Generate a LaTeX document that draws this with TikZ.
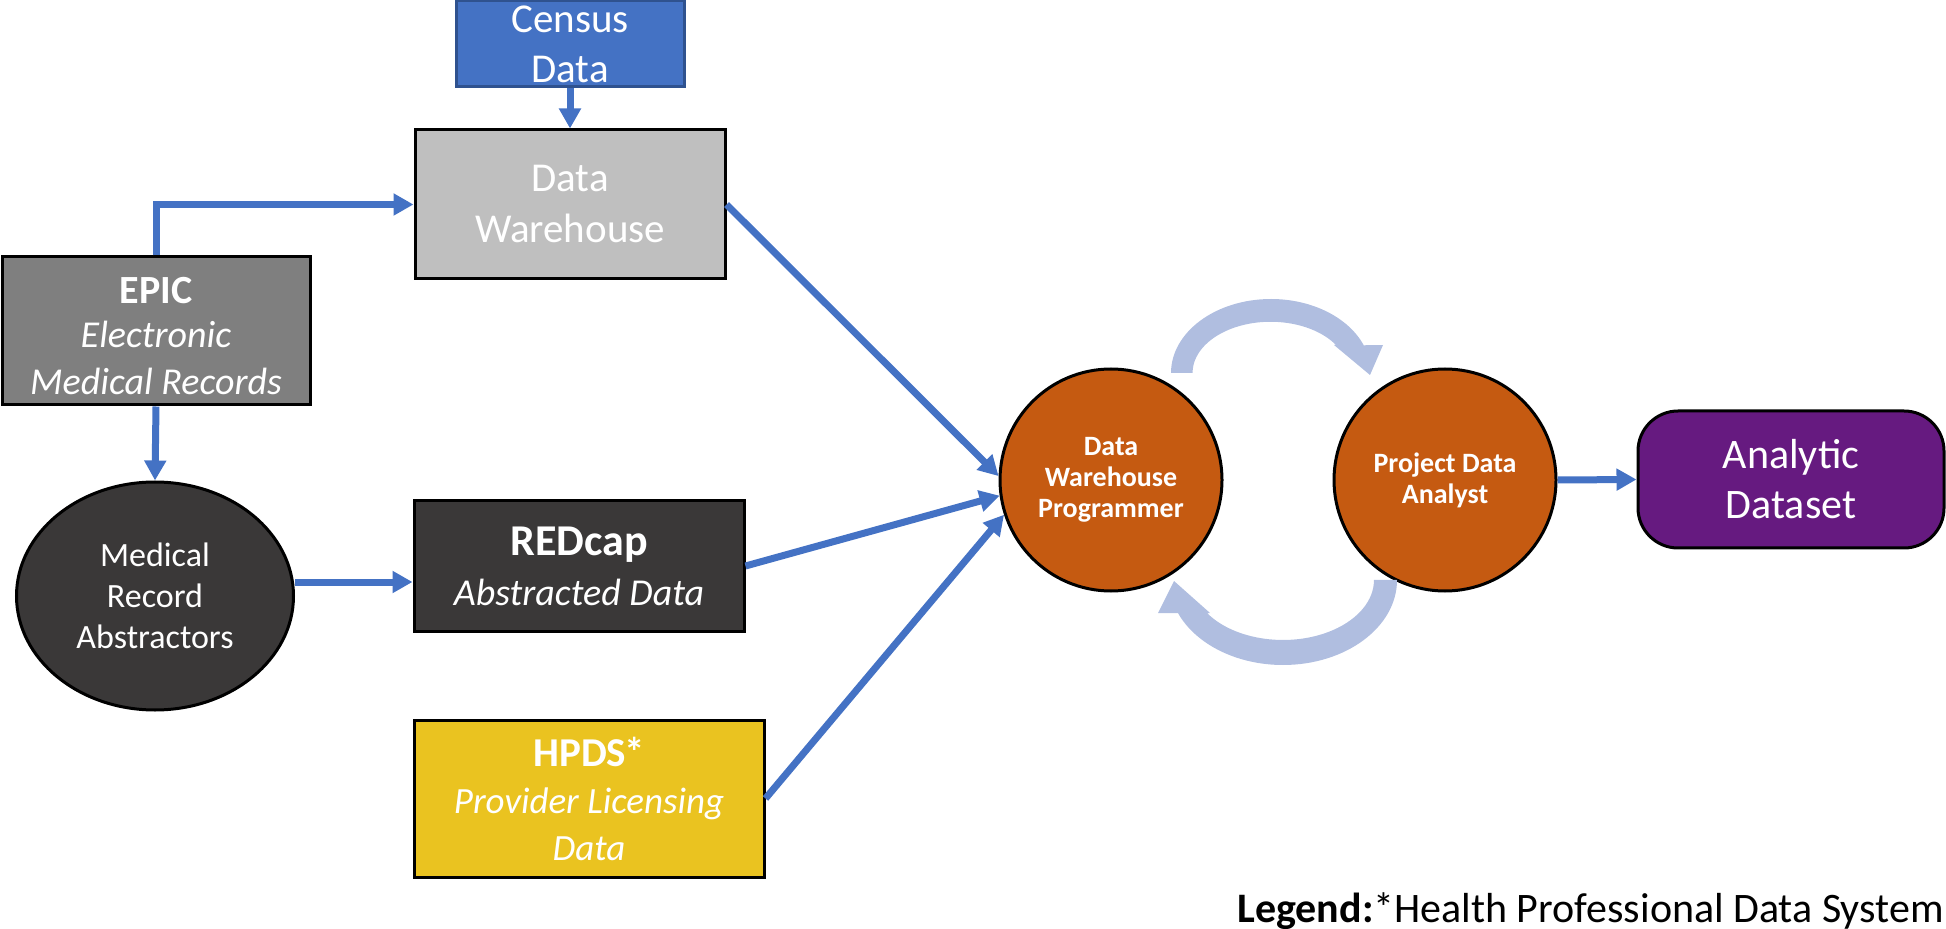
\documentclass[tikz,border=0pt]{standalone}
\usepackage{fontspec}
\setmainfont{Carlito}
\usetikzlibrary{arrows.meta,shapes.geometric}
\definecolor{cblue}{HTML}{4472C4}
\definecolor{cblueD}{HTML}{2F528F}
\definecolor{cgrayL}{HTML}{BFBFBF}
\definecolor{cgrayM}{HTML}{7F7F7F}
\definecolor{cdark}{HTML}{3A3838}
\definecolor{cyel}{HTML}{EAC320}
\definecolor{corange}{HTML}{C55A11}
\definecolor{cpurple}{HTML}{661A80}
\definecolor{ccycle}{HTML}{B0BEE0}
\tikzset{
  box/.style={draw=black, line width=1.5pt, inner sep=0pt, align=center, text=white},
  roundnode/.style={box, circle, minimum size=111pt, fill=corange, font=\fontsize{14}{15.5}\selectfont\bfseries},
  arr/.style={draw=cblue, line width=3.5pt, -{Triangle[length=10pt,width=10.5pt]}},
  cyclearr/.style={fill=ccycle}
}
\begin{document}
\begin{tikzpicture}[x=0.5pt,y=-0.5pt]
\useasboundingbox (0,0) rectangle (1946,929);

\node[box, draw=cblueD, fill=cblue, minimum width=114pt, minimum height=43pt,
      font=\fontsize{20.5}{25}\selectfont] (census) at (570,44) {Census\\Data};
\node[box, fill=cgrayL, minimum width=155pt, minimum height=74.5pt,
      font=\fontsize{20.5}{25.5}\selectfont] (dw) at (570,204.5) {Data\\Warehouse};
\node[box, fill=cgrayM, minimum width=154pt, minimum height=74pt,
      font=\fontsize{20}{23.5}\selectfont] (epic) at (156,331)
      {\rule{0pt}{18.5pt}{\bfseries EPIC}\\[-1.5pt]{\fontsize{19}{23.5}\selectfont\itshape Electronic}\\{\fontsize{19}{23.5}\selectfont\itshape Medical Records}};
\node[box, ellipse, fill=cdark, minimum width=138.5pt, minimum height=114pt,
      font=\fontsize{17}{20.5}\selectfont] (mra) at (155,596) {Medical\\Record\\Abstractors};
\node[box, fill=cdark, minimum width=165pt, minimum height=65pt,
      font=\fontsize{19}{25}\selectfont] (redcap) at (579,566)
      {{\fontsize{22}{25}\selectfont\bfseries REDcap}\\{\itshape Abstracted Data}};
\node[box, fill=cyel, minimum width=175pt, minimum height=78.5pt,
      font=\fontsize{18.5}{23.5}\selectfont] (hpds) at (589,798.5)
      {{\fontsize{20.5}{23.5}\selectfont\bfseries HPDS\kern-1pt*}\\{\itshape Provider Licensing}\\{\itshape Data}};
\node[roundnode] (dwp) at (1111,480) {Data\\Warehouse\\Programmer};
\node[roundnode] (pda) at (1445,480) {Project Data\\Analyst};
\node[box, fill=cpurple, rounded corners=20pt, minimum width=153pt, minimum height=68.5pt,
      font=\fontsize{21}{25}\selectfont] (ad) at (1791,479.5) {Analytic\\Dataset};
\node[anchor=base east, inner sep=0pt, font=\fontsize{21}{25}\selectfont] (legend) at (1944,922)
      {{\bfseries Legend:}*Health Professional Data System};

% connectors
\draw[arr] (census.south) -- (dw.north);
\draw[arr] (epic.north) |- (dw.west);
\draw[arr] (epic.south) -- (mra.north);
\coordinate (m1) at ([yshift=7pt]mra.east);
\draw[arr] (m1) -- (m1 -| redcap.west);
\draw[arr] (dw.east) -- (dwp.178);
\draw[arr] (redcap.east) -- (dwp.188);
\draw[arr] (hpds.east) -- (dwp.198);
\draw[arr] (pda.east) -- (ad.west);

% cycle arrows
\fill[cyclearr] (1171,373) arc[start angle=180, end angle=338, x radius=100, y radius=74]
  -- (1383,345) -- (1370,375) -- (1334,345) -- (1336,345)
  arc[start angle=327, end angle=180, x radius=78, y radius=51] -- cycle;
\fill[cyclearr] (1397,580) arc[start angle=0, end angle=157, x radius=114, y radius=85]
  -- (1158,613) -- (1174,581) -- (1210,613) -- (1207,613)
  arc[start angle=146.6, end angle=0, x radius=91, y radius=60] -- cycle;
\end{tikzpicture}
\end{document}
